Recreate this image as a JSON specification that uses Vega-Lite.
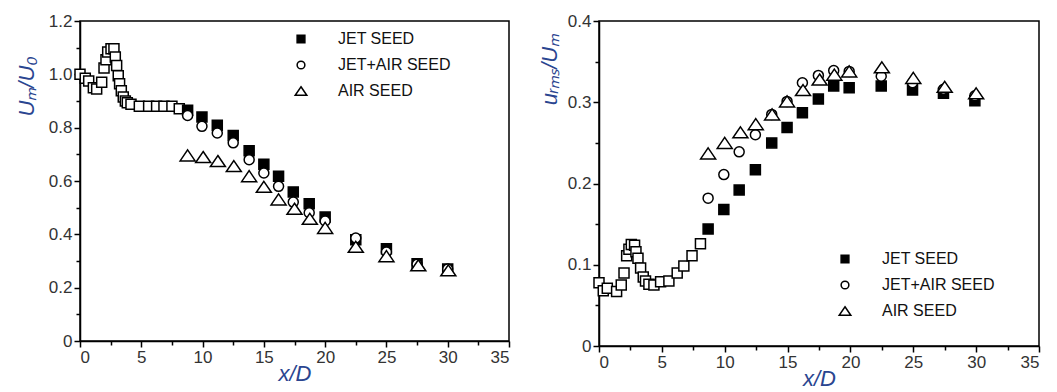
{
  "$schema": "https://vega.github.io/schema/vega-lite/v6.json",
  "padding": {"left": 14, "top": 11, "right": 0, "bottom": 0},
  "spacing": 26,
  "config": {
    "view": {"stroke": "black", "strokeWidth": 1.5},
    "font": "Liberation Sans",
    "axis": {
      "grid": false,
      "domainColor": "black",
      "domainWidth": 1.5,
      "tickColor": "black",
      "tickWidth": 1.5,
      "labelFont": "Liberation Sans",
      "labelFontSize": 17,
      "labelColor": "#333333",
      "labelPadding": 2,
      "titleFont": "Liberation Sans",
      "titleFontStyle": "italic",
      "titleFontWeight": "normal",
      "titleFontSize": 22,
      "titleColor": "#2a4590"
    },
    "legend": {
      "padding": 0,
      "labelFont": "Liberation Sans",
      "labelFontSize": 16,
      "labelColor": "#111111",
      "labelOffset": 29,
      "rowPadding": 10,
      "symbolSize": 60,
      "symbolStrokeWidth": 1.5
    }
  },
  "datasets": {
    "near_um": [
      {"x": 0, "y": 1.0}, {"x": 0.43, "y": 0.985}, {"x": 0.71, "y": 0.975}, {"x": 1.09, "y": 0.95},
      {"x": 1.36, "y": 0.945}, {"x": 1.77, "y": 0.97}, {"x": 1.96, "y": 1.024}, {"x": 2.12, "y": 1.055},
      {"x": 2.26, "y": 1.084}, {"x": 2.53, "y": 1.096}, {"x": 2.77, "y": 1.096}, {"x": 2.88, "y": 1.065},
      {"x": 2.99, "y": 1.033}, {"x": 3.12, "y": 0.995}, {"x": 3.23, "y": 0.965}, {"x": 3.37, "y": 0.938},
      {"x": 3.53, "y": 0.915}, {"x": 3.7, "y": 0.9}, {"x": 3.86, "y": 0.893}, {"x": 4.16, "y": 0.888},
      {"x": 4.84, "y": 0.88}, {"x": 5.6, "y": 0.88}, {"x": 6.25, "y": 0.88}, {"x": 6.85, "y": 0.88},
      {"x": 7.5, "y": 0.88}, {"x": 8.1, "y": 0.871}
    ],
    "series_um": [
      {"x": 8.78, "y": 0.865, "series": "JET SEED"},
      {"x": 9.95, "y": 0.84, "series": "JET SEED"},
      {"x": 11.2, "y": 0.809, "series": "JET SEED"},
      {"x": 12.5, "y": 0.771, "series": "JET SEED"},
      {"x": 13.8, "y": 0.713, "series": "JET SEED"},
      {"x": 15.0, "y": 0.663, "series": "JET SEED"},
      {"x": 16.2, "y": 0.618, "series": "JET SEED"},
      {"x": 17.4, "y": 0.559, "series": "JET SEED"},
      {"x": 18.7, "y": 0.515, "series": "JET SEED"},
      {"x": 20.0, "y": 0.465, "series": "JET SEED"},
      {"x": 22.5, "y": 0.38, "series": "JET SEED"},
      {"x": 25.0, "y": 0.346, "series": "JET SEED"},
      {"x": 27.5, "y": 0.29, "series": "JET SEED"},
      {"x": 30.0, "y": 0.27, "series": "JET SEED"},
      {"x": 8.78, "y": 0.846, "series": "JET+AIR SEED"},
      {"x": 9.95, "y": 0.805, "series": "JET+AIR SEED"},
      {"x": 11.2, "y": 0.78, "series": "JET+AIR SEED"},
      {"x": 12.5, "y": 0.743, "series": "JET+AIR SEED"},
      {"x": 13.8, "y": 0.68, "series": "JET+AIR SEED"},
      {"x": 15.0, "y": 0.63, "series": "JET+AIR SEED"},
      {"x": 16.2, "y": 0.58, "series": "JET+AIR SEED"},
      {"x": 17.4, "y": 0.521, "series": "JET+AIR SEED"},
      {"x": 18.7, "y": 0.481, "series": "JET+AIR SEED"},
      {"x": 20.0, "y": 0.45, "series": "JET+AIR SEED"},
      {"x": 22.5, "y": 0.386, "series": "JET+AIR SEED"},
      {"x": 25.0, "y": 0.334, "series": "JET+AIR SEED"},
      {"x": 27.5, "y": 0.288, "series": "JET+AIR SEED"},
      {"x": 30.0, "y": 0.27, "series": "JET+AIR SEED"},
      {"x": 8.78, "y": 0.696, "series": "AIR SEED"},
      {"x": 10.05, "y": 0.69, "series": "AIR SEED"},
      {"x": 11.25, "y": 0.675, "series": "AIR SEED"},
      {"x": 12.55, "y": 0.656, "series": "AIR SEED"},
      {"x": 13.8, "y": 0.618, "series": "AIR SEED"},
      {"x": 15.0, "y": 0.578, "series": "AIR SEED"},
      {"x": 16.2, "y": 0.531, "series": "AIR SEED"},
      {"x": 17.5, "y": 0.496, "series": "AIR SEED"},
      {"x": 18.75, "y": 0.458, "series": "AIR SEED"},
      {"x": 20.0, "y": 0.424, "series": "AIR SEED"},
      {"x": 22.5, "y": 0.353, "series": "AIR SEED"},
      {"x": 25.0, "y": 0.318, "series": "AIR SEED"},
      {"x": 27.6, "y": 0.284, "series": "AIR SEED"},
      {"x": 30.05, "y": 0.265, "series": "AIR SEED"}
    ],
    "near_rms": [
      {"x": 0, "y": 0.078}, {"x": 0.34, "y": 0.068}, {"x": 0.66, "y": 0.071}, {"x": 1.4, "y": 0.067},
      {"x": 1.77, "y": 0.075}, {"x": 1.99, "y": 0.09}, {"x": 2.2, "y": 0.111}, {"x": 2.38, "y": 0.119},
      {"x": 2.57, "y": 0.125}, {"x": 2.83, "y": 0.124}, {"x": 2.94, "y": 0.116}, {"x": 3.1, "y": 0.108},
      {"x": 3.31, "y": 0.096}, {"x": 3.52, "y": 0.085}, {"x": 3.7, "y": 0.08}, {"x": 3.97, "y": 0.076},
      {"x": 4.37, "y": 0.075}, {"x": 4.9, "y": 0.079}, {"x": 5.56, "y": 0.08}, {"x": 6.22, "y": 0.09},
      {"x": 6.75, "y": 0.0985}, {"x": 7.4, "y": 0.111}, {"x": 8.07, "y": 0.126}
    ],
    "series_rms": [
      {"x": 8.68, "y": 0.144, "series": "JET SEED"},
      {"x": 9.93, "y": 0.168, "series": "JET SEED"},
      {"x": 11.15, "y": 0.192, "series": "JET SEED"},
      {"x": 12.44, "y": 0.217, "series": "JET SEED"},
      {"x": 13.74, "y": 0.25, "series": "JET SEED"},
      {"x": 14.96, "y": 0.269, "series": "JET SEED"},
      {"x": 16.18, "y": 0.287, "series": "JET SEED"},
      {"x": 17.45, "y": 0.304, "series": "JET SEED"},
      {"x": 18.67, "y": 0.32, "series": "JET SEED"},
      {"x": 19.9, "y": 0.318, "series": "JET SEED"},
      {"x": 22.45, "y": 0.32, "series": "JET SEED"},
      {"x": 24.94, "y": 0.315, "series": "JET SEED"},
      {"x": 27.4, "y": 0.311, "series": "JET SEED"},
      {"x": 29.9, "y": 0.302, "series": "JET SEED"},
      {"x": 8.68, "y": 0.182, "series": "JET+AIR SEED"},
      {"x": 9.93, "y": 0.211, "series": "JET+AIR SEED"},
      {"x": 11.15, "y": 0.239, "series": "JET+AIR SEED"},
      {"x": 12.44, "y": 0.26, "series": "JET+AIR SEED"},
      {"x": 13.74, "y": 0.285, "series": "JET+AIR SEED"},
      {"x": 14.96, "y": 0.301, "series": "JET+AIR SEED"},
      {"x": 16.18, "y": 0.324, "series": "JET+AIR SEED"},
      {"x": 17.45, "y": 0.333, "series": "JET+AIR SEED"},
      {"x": 18.67, "y": 0.339, "series": "JET+AIR SEED"},
      {"x": 19.9, "y": 0.338, "series": "JET+AIR SEED"},
      {"x": 22.45, "y": 0.332, "series": "JET+AIR SEED"},
      {"x": 24.94, "y": 0.324, "series": "JET+AIR SEED"},
      {"x": 27.4, "y": 0.316, "series": "JET+AIR SEED"},
      {"x": 29.9, "y": 0.308, "series": "JET+AIR SEED"},
      {"x": 8.68, "y": 0.237, "series": "AIR SEED"},
      {"x": 10.0, "y": 0.25, "series": "AIR SEED"},
      {"x": 11.25, "y": 0.263, "series": "AIR SEED"},
      {"x": 12.47, "y": 0.273, "series": "AIR SEED"},
      {"x": 13.77, "y": 0.285, "series": "AIR SEED"},
      {"x": 14.96, "y": 0.301, "series": "AIR SEED"},
      {"x": 16.23, "y": 0.315, "series": "AIR SEED"},
      {"x": 17.55, "y": 0.328, "series": "AIR SEED"},
      {"x": 18.72, "y": 0.334, "series": "AIR SEED"},
      {"x": 19.9, "y": 0.338, "series": "AIR SEED"},
      {"x": 22.5, "y": 0.343, "series": "AIR SEED"},
      {"x": 25.0, "y": 0.33, "series": "AIR SEED"},
      {"x": 27.5, "y": 0.319, "series": "AIR SEED"},
      {"x": 30.0, "y": 0.311, "series": "AIR SEED"}
    ]
  },
  "hconcat": [
    {
      "width": 429,
      "height": 320,
      "resolve": {"axis": {"x": "independent", "y": "independent"}},
      "layer": [
        {
          "data": {"name": "near_um"},
          "mark": {"type": "point", "shape": "square", "filled": true, "fill": "white", "stroke": "black", "strokeWidth": 1.5, "size": 100, "opacity": 1},
          "encoding": {
            "x": {"field": "x", "type": "quantitative", "scale": {"domain": [0, 35], "nice": false},
              "axis": {"orient": "bottom", "values": [2.5, 7.5, 12.5, 17.5, 22.5, 27.5, 32.5], "labels": false, "domain": false, "tickSize": 4, "title": null}},
            "y": {"field": "y", "type": "quantitative", "scale": {"domain": [0, 1.2], "nice": false},
              "axis": {"orient": "left", "values": [0.1, 0.3, 0.5, 0.7, 0.9, 1.1], "labels": false, "domain": false, "tickSize": 4, "title": null}}
          }
        },
        {
          "data": {"name": "series_um"},
          "mark": {"type": "point", "filled": true, "strokeWidth": 1.5, "size": 100, "opacity": 1},
          "encoding": {
            "x": {"field": "x", "type": "quantitative", "scale": {"domain": [0, 35], "nice": false},
              "axis": {"orient": "bottom", "values": [0, 5, 10, 15, 20, 25, 30, 35], "tickSize": 6, "title": "x/D", "titlePadding": -2}},
            "y": {"field": "y", "type": "quantitative", "scale": {"domain": [0, 1.2], "nice": false},
              "axis": {"orient": "left", "values": [0, 0.2, 0.4, 0.6, 0.8, 1.0, 1.2], "tickSize": 6, "title": "Uₘ/U₀", "titlePadding": 10, "titleY": 65,
                "labelExpr": "datum.value == 0 ? '0' : format(datum.value, '.1f')"}},
            "shape": {"field": "series", "type": "nominal",
              "scale": {"domain": ["JET SEED", "JET+AIR SEED", "AIR SEED"], "range": ["square", "circle", "M0,-1.1L1.5,1.1L-1.5,1.1Z"]},
              "legend": {"title": null, "orient": "none", "legendX": 213, "legendY": 10}},
            "fill": {"field": "series", "type": "nominal",
              "scale": {"domain": ["JET SEED", "JET+AIR SEED", "AIR SEED"], "range": ["black", "white", "white"]},
              "legend": {"title": null, "orient": "none", "legendX": 213, "legendY": 10}},
            "stroke": {"field": "series", "type": "nominal",
              "scale": {"domain": ["JET SEED", "JET+AIR SEED", "AIR SEED"], "range": ["black", "black", "black"]},
              "legend": {"title": null, "orient": "none", "legendX": 213, "legendY": 10}}
          }
        }
      ]
    },
    {
      "width": 440,
      "height": 325,
      "resolve": {"axis": {"x": "independent", "y": "independent"}},
      "layer": [
        {
          "data": {"name": "near_rms"},
          "mark": {"type": "point", "shape": "square", "filled": true, "fill": "white", "stroke": "black", "strokeWidth": 1.5, "size": 100, "opacity": 1},
          "encoding": {
            "x": {"field": "x", "type": "quantitative", "scale": {"domain": [0, 35], "nice": false},
              "axis": {"orient": "bottom", "values": [2.5, 7.5, 12.5, 17.5, 22.5, 27.5, 32.5], "labels": false, "domain": false, "tickSize": 4, "title": null}},
            "y": {"field": "y", "type": "quantitative", "scale": {"domain": [0, 0.4], "nice": false},
              "axis": {"orient": "left", "values": [0.05, 0.15, 0.25, 0.35], "labels": false, "domain": false, "tickSize": 4, "title": null}}
          }
        },
        {
          "data": {"name": "series_rms"},
          "mark": {"type": "point", "filled": true, "strokeWidth": 1.5, "size": 100, "opacity": 1},
          "encoding": {
            "x": {"field": "x", "type": "quantitative", "scale": {"domain": [0, 35], "nice": false},
              "axis": {"orient": "bottom", "values": [0, 5, 10, 15, 20, 25, 30, 35], "tickSize": 6, "title": "x/D", "titlePadding": -2}},
            "y": {"field": "y", "type": "quantitative", "scale": {"domain": [0, 0.4], "nice": false},
              "axis": {"orient": "left", "values": [0, 0.1, 0.2, 0.3, 0.4], "tickSize": 6, "title": "uᵣₘₛ/Uₘ", "titlePadding": 6, "titleY": 48,
                "labelExpr": "datum.value == 0 ? '0' : format(datum.value, '.1f')"}},
            "shape": {"field": "series", "type": "nominal",
              "scale": {"domain": ["JET SEED", "JET+AIR SEED", "AIR SEED"], "range": ["square", "circle", "M0,-1.1L1.5,1.1L-1.5,1.1Z"]},
              "legend": {"title": null, "orient": "none", "legendX": 238, "legendY": 230}},
            "fill": {"field": "series", "type": "nominal",
              "scale": {"domain": ["JET SEED", "JET+AIR SEED", "AIR SEED"], "range": ["black", "white", "white"]},
              "legend": {"title": null, "orient": "none", "legendX": 238, "legendY": 230}},
            "stroke": {"field": "series", "type": "nominal",
              "scale": {"domain": ["JET SEED", "JET+AIR SEED", "AIR SEED"], "range": ["black", "black", "black"]},
              "legend": {"title": null, "orient": "none", "legendX": 238, "legendY": 230}}
          }
        }
      ]
    }
  ],
  "resolve": {"legend": {"shape": "independent", "fill": "independent", "stroke": "independent"}, "scale": {"shape": "independent", "fill": "independent", "stroke": "independent"}}
}
